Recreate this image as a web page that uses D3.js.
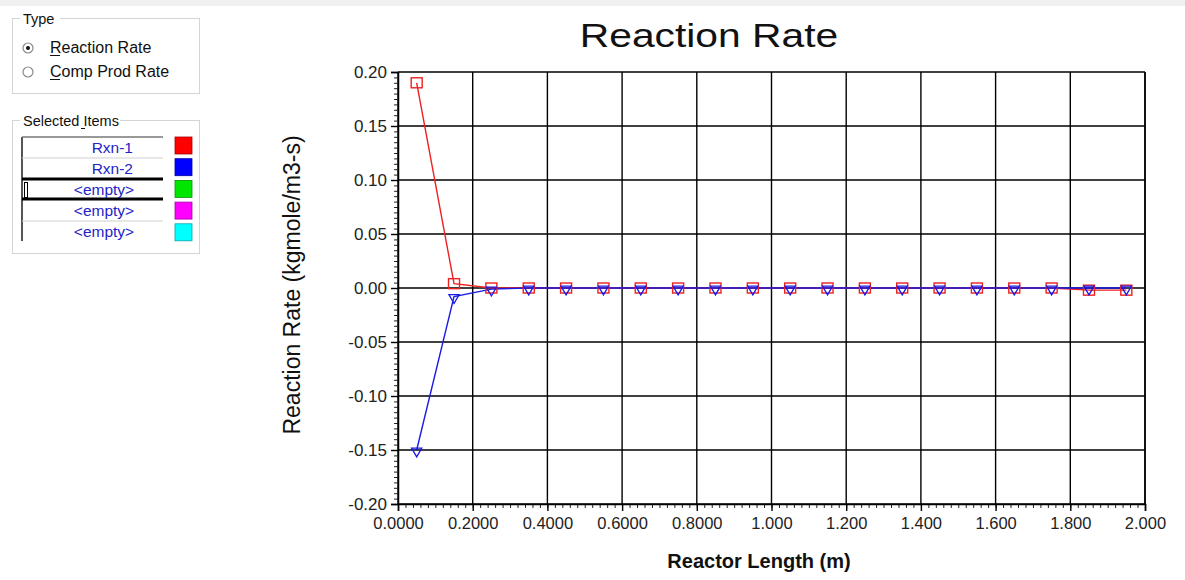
<!DOCTYPE html>
<html>
<head>
<meta charset="utf-8">
<script src="https://cdn.jsdelivr.net/npm/d3@7"></script>
<style>
  html, body { margin: 0; padding: 0; background: #ffffff; }
  svg { display: block; font-family: "Liberation Sans", Arial, sans-serif; }
</style>
</head>
<body>
<svg id="chart" width="1185" height="580"></svg>
<script>
// Reactor positions (m) and reaction rates (kgmole/m3-s)
const reactorLength = [0.05, 0.15, 0.25, 0.35, 0.45, 0.55, 0.65, 0.75, 0.85, 0.95,
                       1.05, 1.15, 1.25, 1.35, 1.45, 1.55, 1.65, 1.75, 1.85, 1.95];
const rxn1Rate = [0.190, 0.004, 0.000, 0.000, 0.000, 0.000, 0.000, 0.000, 0.000, 0.000,
                  0.000, 0.000, 0.000, 0.000, 0.000, 0.000, 0.000, 0.000, -0.002, -0.002];
const rxn2Rate = [-0.150, -0.008, -0.001, 0.000, 0.000, 0.000, 0.000, 0.000, 0.000, 0.000,
                  0.000, 0.000, 0.000, 0.000, 0.000, 0.000, 0.000, 0.000, 0.000, 0.000];

const xTicks = [0, 0.2, 0.4, 0.6, 0.8, 1.0, 1.2, 1.4, 1.6, 1.8, 2.0];
const xTickLabels = ["0.0000", "0.2000", "0.4000", "0.6000", "0.8000", "1.000",
                     "1.200", "1.400", "1.600", "1.800", "2.000"];
const yTicks = [-0.20, -0.15, -0.10, -0.05, 0.00, 0.05, 0.10, 0.15, 0.20];
const yTickLabels = ["-0.20", "-0.15", "-0.10", "-0.05", "0.00", "0.05", "0.10", "0.15", "0.20"];

const typeOptions = ["Reaction Rate", "Comp Prod Rate"];
const selectedItems = ["Rxn-1", "Rxn-2", "<empty>", "<empty>", "<empty>"];
const itemColors = ["#ff0000", "#0000ff", "#00e600", "#ff00ff", "#00ffff"];

const svg = d3.select("#chart");

// thin grey strip across the top of the window
svg.append("rect").attr("x", 0).attr("y", 0).attr("width", 1185).attr("height", 6).attr("fill", "#f0f0f0");

// ---------- left control panel ----------
function groupBox(x, y, w, h, label, labelW) {
  const g = svg.append("g");
  g.append("rect").attr("x", x + 0.5).attr("y", y + 0.5).attr("width", w).attr("height", h)
    .attr("fill", "none").attr("stroke", "#d4d4d4");
  g.append("rect").attr("x", 20).attr("y", y - 8).attr("width", labelW).attr("height", 14).attr("fill", "#fff");
  g.append("text").attr("x", 23).attr("y", y + 6).attr("font-size", 14.5).attr("fill", "#111").text(label);
  return g;
}

groupBox(12, 18, 187, 75, "Type", 40);
const radioY = [48, 72];
typeOptions.forEach((t, i) => {
  svg.append("circle").attr("cx", 28).attr("cy", radioY[i]).attr("r", 5)
    .attr("fill", "#fff").attr("stroke", "#8a8a8a").attr("stroke-width", 1.2);
  if (i === 0) svg.append("circle").attr("cx", 28).attr("cy", radioY[i]).attr("r", 2).attr("fill", "#111");
  svg.append("text").attr("x", 50).attr("y", radioY[i] + 5).attr("font-size", 16).attr("fill", "#111").text(t);
  svg.append("line").attr("x1", 50).attr("x2", 60).attr("y1", radioY[i] + 7.5).attr("y2", radioY[i] + 7.5)
    .attr("stroke", "#111").attr("stroke-width", 1);
});

groupBox(12, 120, 187, 133, "Selected Items", 100);
svg.append("line").attr("x1", 81).attr("x2", 85).attr("y1", 128.5).attr("y2", 128.5).attr("stroke", "#111");

const rowTop = 137, rowH = 21;
const listG = svg.append("g");
listG.append("line").attr("x1", 22).attr("x2", 22).attr("y1", rowTop).attr("y2", 241)
  .attr("stroke", "#555").attr("stroke-width", 2);
listG.append("line").attr("x1", 22).attr("x2", 163).attr("y1", rowTop).attr("y2", rowTop)
  .attr("stroke", "#777").attr("stroke-width", 1.5);
[158, 221].forEach(y => listG.append("line").attr("x1", 22).attr("x2", 163).attr("y1", y).attr("y2", y)
  .attr("stroke", "#cfcfcf").attr("stroke-width", 1));
[179, 199].forEach(y => listG.append("line").attr("x1", 22).attr("x2", 163).attr("y1", y).attr("y2", y)
  .attr("stroke", "#000").attr("stroke-width", 3));
listG.append("rect").attr("x", 24.5).attr("y", 182.5).attr("width", 3).attr("height", 15)
  .attr("fill", "none").attr("stroke", "#000").attr("stroke-width", 1);

selectedItems.forEach((s, i) => {
  const y = rowTop + i * rowH + 16;
  const isRxn = s.startsWith("Rxn");
  listG.append("text")
    .attr("x", isRxn ? 133 : 104).attr("y", y)
    .attr("text-anchor", isRxn ? "end" : "middle")
    .attr("font-size", 15.5).attr("fill", "#2323c8").text(s);
  listG.append("rect").attr("x", 175).attr("y", rowTop + i * 21.7).attr("width", 17).attr("height", 17)
    .attr("fill", itemColors[i]).attr("stroke", d3.color(itemColors[i]).darker(1.2)).attr("stroke-width", 0.8);
});

// ---------- chart ----------
const x = d3.scaleLinear().domain([0, 2]).range([398, 1145]);
const y = d3.scaleLinear().domain([-0.2, 0.2]).range([504, 72]);

const plot = svg.append("g");

// gridlines
plot.selectAll(".vgrid").data(xTicks).join("line")
  .attr("x1", d => x(d)).attr("x2", d => x(d)).attr("y1", y(0.2)).attr("y2", y(-0.2))
  .attr("stroke", "#000").attr("stroke-width", 1.4);
plot.selectAll(".hgrid").data(yTicks).join("line")
  .attr("x1", x(0)).attr("x2", x(2)).attr("y1", d => y(d)).attr("y2", d => y(d))
  .attr("stroke", "#000").attr("stroke-width", 1.4);

// minor ticks
const xMinor = d3.range(0, 101).map(i => i * 0.02);
const yMinor = d3.range(0, 81).map(i => -0.2 + i * 0.005);
const xAxis = d3.axisBottom(x).tickValues(xMinor).tickSize(4).tickFormat("");
const yAxis = d3.axisLeft(y).tickValues(yMinor).tickSize(4).tickFormat("");
svg.append("g").attr("transform", `translate(0,${y(-0.2)})`).call(xAxis)
  .call(g => g.select(".domain").remove())
  .call(g => g.selectAll("line").attr("stroke", "#222"));
svg.append("g").attr("transform", `translate(${x(0)},0)`).call(yAxis)
  .call(g => g.select(".domain").remove())
  .call(g => g.selectAll("line").attr("stroke", "#222"));

// major ticks and labels
const xMajor = d3.axisBottom(x).tickValues(xTicks).tickSize(7)
  .tickFormat((d, i) => xTickLabels[i]).tickPadding(6);
svg.append("g").attr("transform", `translate(0,${y(-0.2)})`).call(xMajor)
  .call(g => g.select(".domain").attr("stroke", "#000").attr("stroke-width", 1.5))
  .call(g => g.selectAll("line").attr("stroke", "#000").attr("stroke-width", 1.4))
  .call(g => g.selectAll("text").attr("font-size", 16.5).attr("fill", "#222")
    .attr("font-family", "Liberation Sans, Arial, sans-serif"));
const yMajor = d3.axisLeft(y).tickValues(yTicks).tickSize(7)
  .tickFormat((d, i) => yTickLabels[i]).tickPadding(4);
svg.append("g").attr("transform", `translate(${x(0)},0)`).call(yMajor)
  .call(g => g.select(".domain").attr("stroke", "#000").attr("stroke-width", 1.5))
  .call(g => g.selectAll("line").attr("stroke", "#000").attr("stroke-width", 1.4))
  .call(g => g.selectAll("text").attr("font-size", 17).attr("fill", "#222")
    .attr("font-family", "Liberation Sans, Arial, sans-serif"));
// right border of the plot
plot.append("line").attr("x1", x(2)).attr("x2", x(2)).attr("y1", y(0.2)).attr("y2", y(-0.2))
  .attr("stroke", "#000").attr("stroke-width", 1.5);

// series
const series = [
  { values: rxn1Rate, color: "#ee2020", marker: "square" },
  { values: rxn2Rate, color: "#1a1ae6", marker: "triangle" }
];
const line = d3.line().x(d => x(d[0])).y(d => y(d[1]));
series.forEach(s => {
  const pts = reactorLength.map((v, i) => [v, s.values[i]]);
  plot.append("path").attr("d", line(pts)).attr("fill", "none")
    .attr("stroke", s.color).attr("stroke-width", 1.4);
});
series.forEach(s => {
  const pts = reactorLength.map((v, i) => [v, s.values[i]]);
  const g = plot.append("g");
  if (s.marker === "square") {
    g.selectAll("rect").data(pts).join("rect")
      .attr("x", d => x(d[0]) - 5.5).attr("y", d => y(d[1]) - 5)
      .attr("width", 11).attr("height", 10)
      .attr("fill", "none").attr("stroke", s.color).attr("stroke-width", 1.4);
  } else {
    const tri = d3.symbol().type(d3.symbolTriangle).size(45);
    g.selectAll("path").data(pts).join("path")
      .attr("d", tri)
      .attr("transform", d => `translate(${x(d[0])},${y(d[1]) + 1}) rotate(180)`)
      .attr("fill", "none").attr("stroke", s.color).attr("stroke-width", 1.3);
  }
});

// titles
svg.append("text").attr("transform", "translate(709,47) scale(1.2,1)").attr("text-anchor", "middle")
  .attr("font-size", 34).attr("fill", "#111").text("Reaction Rate");
svg.append("text").attr("transform", "translate(300,285) rotate(-90)").attr("text-anchor", "middle")
  .attr("font-size", 23).attr("fill", "#111").text("Reaction Rate (kgmole/m3-s)");
svg.append("text").attr("x", 759).attr("y", 568).attr("text-anchor", "middle")
  .attr("font-size", 20).attr("font-weight", "bold").attr("fill", "#111").text("Reactor Length (m)");
</script>
</body>
</html>
